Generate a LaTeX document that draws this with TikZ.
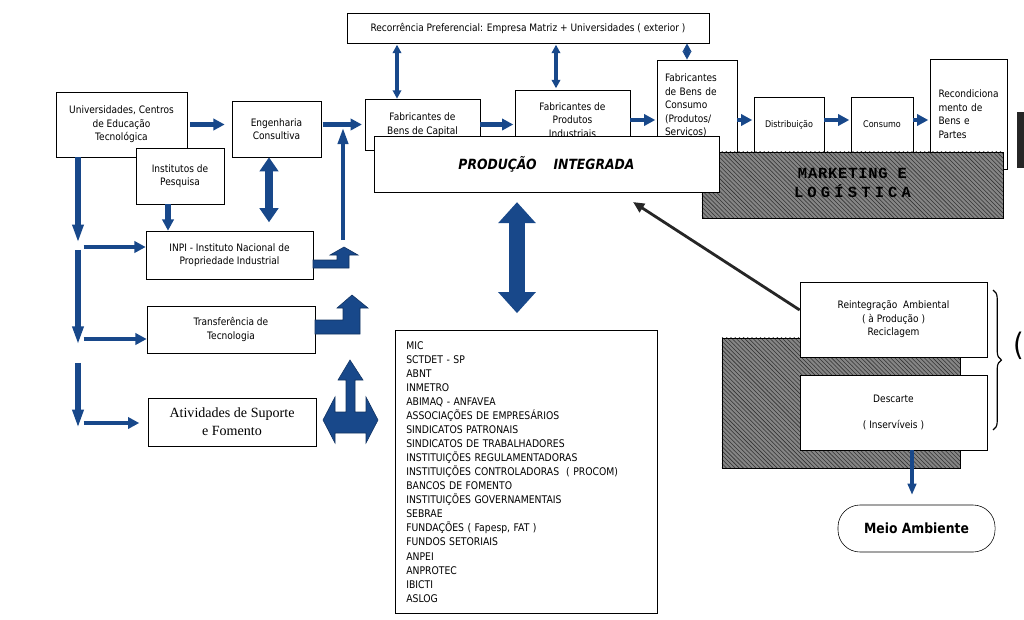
\documentclass[tikz,border=0pt]{standalone}
\usepackage{fontspec}
\setmainfont{DejaVu Sans}[FakeStretch=0.88]
\newfontfamily\serifont{Liberation Serif}
\newfontfamily\mkfont{Liberation Mono}[LetterSpace=5]
\usetikzlibrary{arrows.meta,patterns,decorations.pathreplacing}
\definecolor{arrowblue}{RGB}{24,72,138}

\tikzset{
  box/.style={draw, fill=white, align=center, inner sep=2pt, font=\fontsize{7.3}{9.6}\selectfont},
  hatch/.style={draw, preaction={fill=black!48}, pattern=north west lines, pattern color=black!80},
  barrow/.style={arrowblue, line width=3.2pt, -{Triangle[length=8pt,width=8pt]}},
  vbarrow/.style={arrowblue, line width=4pt, -{Triangle[length=13pt,width=7.5pt]}},
  dbarrow/.style={arrowblue, line width=2.6pt, {Triangle[length=6pt,width=6pt]}-{Triangle[length=6pt,width=6pt]}},
  blockarrow/.style={fill=arrowblue, draw=arrowblue!70!black}
}

\begin{document}
\begin{tikzpicture}[x=0.025cm, y=-0.025cm]
  \useasboundingbox (0,0) rectangle (1024,619);

  \node[hatch, minimum width=5.95cm, minimum height=3.25cm] (sombra) at (841,403) {};
  \fill[black!85] (1017,112) rectangle (1024,168);

  \node[box, minimum width=9.05cm, minimum height=0.75cm] (rec) at (528,28)
    {Recorrência Preferencial: Empresa Matriz + Universidades ( exterior )};

  \node[box, minimum width=3.275cm, minimum height=1.625cm] (univ) at (121.5,124.5)
    {Universidades, Centros\\de Educação\\Tecnológica};
  \node[box, minimum width=2.2cm, minimum height=1.4cm] (inst) at (180,176) {Institutos de\\Pesquisa};
  \node[box, minimum width=2.225cm, minimum height=1.4cm] (eng) at (276.5,129) {Engenharia\\Consultiva};
  \node[box, minimum width=4.175cm, minimum height=1.2cm] (inpi) at (229.5,255)
    {INPI - Instituto Nacional de\\Propriedade Industrial};
  \node[box, minimum width=4.2cm, minimum height=1.175cm] (transf) at (231,329.5) {Transferência de\\Tecnologia};
  \node[box, minimum width=4.2cm, minimum height=1.2cm, font=\serifont\fontsize{10}{13}\selectfont] (ativ) at (232,422)
    {Atividades de Suporte\\e Fomento};

  \node[box, minimum width=2.875cm, minimum height=1.275cm] (fcap) at (422.5,124.5) {Fabricantes de\\Bens de Capital};
  \node[box, minimum width=2.875cm, minimum height=1.5cm] (fprod) at (572.5,120) {Fabricantes de\\Produtos\\Industriais};
  \node[box, align=left, minimum width=2cm, minimum height=2.3cm, text width=1.6cm, inner xsep=0.2cm] (fcons) at (697,106)
    {Fabricantes\\de Bens de\\Consumo\\(Produtos/\\Serviços)};
  \node[box, minimum width=1.75cm, minimum height=1.375cm, font=\fontsize{6.5}{8}\selectfont] (dist) at (789,124.5) {Distribuição};
  \node[box, minimum width=1.55cm, minimum height=1.375cm, font=\fontsize{6.5}{8}\selectfont] (cons) at (882,124.5) {Consumo};
  \node[box, align=left, minimum width=1.925cm, minimum height=2.75cm, text width=1.5cm, inner xsep=0.2cm] (recon) at (968.5,114)
    {Recondiciona\\mento de\\Bens e\\Partes};

  \node[hatch, minimum width=7.525cm, minimum height=1.65cm, align=center, text=black,
    font=\mkfont\bfseries\fontsize{11}{11.6}\selectfont] (mkt) at (852.5,185)
    {\raisebox{3pt}{MARKETING E}\\\raisebox{3pt}{\addfontfeature{LetterSpace=27}LOGÍSTICA}};

  \node[box, minimum width=8.625cm, minimum height=1.4cm, font=\fontsize{10}{12}\selectfont\bfseries\itshape] (prod) at (546.5,164)
    {PRODUÇÃO\hspace{1.2em}INTEGRADA};

  \node[box, align=left, anchor=north west, minimum width=6.55cm, minimum height=7.075cm, text width=6cm,
    inner xsep=0.25cm, font=\fontsize{7.5}{10}\selectfont] (lista) at (395,330)
    {MIC\\SCTDET - SP\\ABNT\\INMETRO\\ABIMAQ - ANFAVEA\\ASSOCIAÇÕES DE EMPRESÁRIOS\\SINDICATOS PATRONAIS\\
     SINDICATOS DE TRABALHADORES\\INSTITUIÇÕES REGULAMENTADORAS\\INSTITUIÇÕES CONTROLADORAS\ \ ( PROCOM)\\
     BANCOS DE FOMENTO\\INSTITUIÇÕES GOVERNAMENTAIS\\SEBRAE\\FUNDAÇÕES ( Fapesp, FAT )\\FUNDOS SETORIAIS\\
     ANPEI\\ANPROTEC\\IBICTI\\ASLOG};

  \node[box, minimum width=4.675cm, minimum height=1.875cm] (reint) at (893.5,319.5)
    {Reintegração\ \ Ambiental\\( à Produção )\\Reciclagem};
  \node[box, minimum width=4.675cm, minimum height=1.875cm] (desc) at (893.5,412.5)
    {Descarte\\[9pt]( Inservíveis )};
  \node[draw, rounded corners=0.55cm, minimum width=3.925cm, minimum height=1.175cm,
    font=\fontsize{10}{12}\selectfont\bfseries] (meio) at (916.5,528.5) {Meio Ambiente};

  \draw[thick, decorate, decoration={brace, amplitude=6pt}] (993,290) -- (993,430);
  \node[anchor=east, inner sep=0pt, font=\fontsize{22}{22}\selectfont] (paren) at (1024,346) {(};

  \coordinate (j1) at (78,247);
  \coordinate (j2) at (78,339);
  \coordinate (j3) at (78,423);
  \coordinate (up1) at (343,240);
  \coordinate (ptip) at (633,202);

  \draw[barrow, shorten <=2pt, shorten >=5pt] (univ.east) -- (eng.west |- univ.east);
  \draw[barrow, shorten <=1pt, shorten >=2pt] (eng.east |- fcap.west) -- (fcap.west);
  \draw[barrow, shorten >=1pt] (fcap.east) -- (fprod.west |- fcap.east);
  \draw[barrow, shorten >=1pt] (fprod.east) -- (fcons.west |- fprod.east);
  \draw[barrow, shorten >=1pt] (fcons.east |- fprod.east) -- (dist.west |- fprod.east);
  \draw[barrow, shorten >=1pt] (dist.east |- fprod.east) -- (cons.west |- fprod.east);
  \draw[barrow, shorten >=1pt] (cons.east |- fprod.east) -- (recon.west |- fprod.east);

  \draw[dbarrow, shorten <=1pt] (rec.south -| 397,0) -- (fcap.north -| 397,0);
  \draw[dbarrow, shorten <=1pt, shorten >=1pt] (rec.south -| 556,0) -- (fprod.north -| 556,0);
  \draw[dbarrow] (rec.south -| 687,0) -- (fcons.north -| 687,0);

  \draw[arrowblue, line width=5.7pt, {Triangle[length=10pt,width=13pt]}-{Triangle[length=10pt,width=13pt]},
    shorten >=6pt] (eng.south -| 269,0) -- (inpi.north -| 269,0);
  \draw[barrow, line width=3.6pt] (inst.south -| 168,0) -- (inpi.north -| 168,0);

  \draw[vbarrow, shorten >=3pt] (univ.south -| j1) -- (j1);
  \draw[barrow, shorten <=4pt] (j1) -- (inpi.west |- j1);
  \draw[vbarrow, shorten <=2pt, shorten >=-4pt] (j1) -- (j2);
  \draw[barrow, shorten <=4pt] (j2) -- (transf.west |- j2);
  \draw[vbarrow, shorten <=17pt, shorten >=-3.5pt] (j2) -- (j3);
  \draw[barrow, shorten <=4pt, shorten >=6pt] (j3) -- (ativ.west |- j3);

  \draw[arrowblue, line width=3pt, -{Triangle[length=12pt,width=7pt]}, shorten >=2pt] (up1) -- (fcap.west -| up1);

  \fill[blockarrow] (313,260) -- (337,260) -- (337,255) -- (330,255) -- (344,247) -- (358,255) -- (349,255)
    -- (349,268) -- (313,268) -- cycle;
  \fill[blockarrow] (315,320) -- (343,320) -- (343,308) -- (337,308) -- (352,295) -- (368,308) -- (360,308)
    -- (360,334) -- (315,334) -- cycle;
  \fill[blockarrow] (350,360) -- (363,380) -- (355,380) -- (355,412) -- (366,412) -- (366,397) -- (378,420)
    -- (366,443) -- (366,433) -- (335,433) -- (335,443) -- (323,420) -- (335,397) -- (335,412) -- (346,412)
    -- (346,380) -- (338,380) -- cycle;

  \draw[arrowblue, line width=12pt, {Triangle[length=15pt,width=26pt]}-{Triangle[length=15pt,width=26pt]},
    shorten <=7pt, shorten >=12pt] (prod.south -| 517,0) -- (lista.north -| 517,0);

  \draw[black!85, line width=2pt, -{Triangle[length=8pt,width=7pt]}] (reint.west |- 0,310) -- (ptip);
  \draw[arrowblue, line width=2.5pt, -{Triangle[length=8pt,width=6pt]}, shorten >=7pt] (desc.south -| 912,0) -- (meio.north -| 912,0);
\end{tikzpicture}
\end{document}
